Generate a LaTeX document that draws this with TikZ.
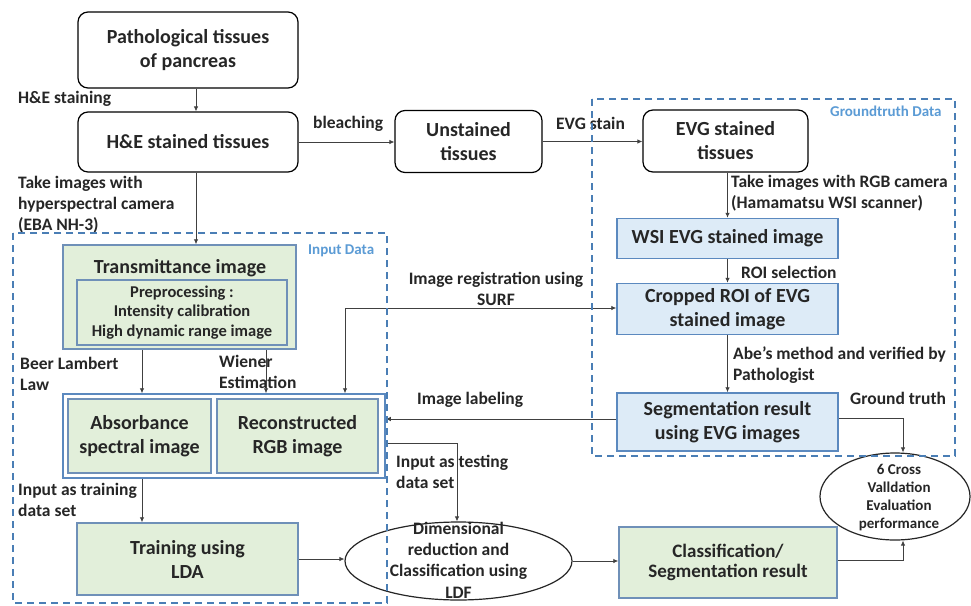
\documentclass[tikz,border=0pt]{standalone}
\usepackage{fontspec}
\setmainfont{Carlito}
\usetikzlibrary{arrows.meta,shapes.geometric,calc}
\definecolor{txt}{HTML}{262626}
\definecolor{conn}{HTML}{404040}
\definecolor{dash}{HTML}{4A7EB5}
\definecolor{lblue}{HTML}{5B9BD5}
\definecolor{gfill}{HTML}{E2EFDA}
\definecolor{gborder}{HTML}{6F90B8}
\definecolor{bfill}{HTML}{DDEBF7}
\definecolor{bborder}{HTML}{5B89BF}
\tikzset{
  bigfont/.style={font=\bfseries\fontsize{20}{24}\selectfont},
  rbox/.style={draw=black, line width=1.2pt, rounded corners=10pt, fill=white, align=center, inner sep=0pt, bigfont, text=txt},
  gbox/.style={draw=gborder, line width=1.5pt, fill=gfill, align=center, inner sep=0pt, bigfont, text=txt},
  bbox/.style={draw=bborder, line width=1.5pt, fill=bfill, align=center, inner sep=0pt, bigfont, text=txt},
  ell/.style={ellipse, draw=black!85, line width=1.2pt, fill=white, inner sep=0pt},
  lbl/.style={font=\bfseries\fontsize{17.5}{21}\selectfont, anchor=west, align=left, inner sep=0pt, text=txt},
  grp/.style={font=\bfseries\fontsize{15}{18}\selectfont, anchor=west, inner sep=0pt, text=lblue},
  arr/.style={draw=conn, line width=0.8pt, -{Latex[length=5pt,width=4.5pt]}},
  arrboth/.style={draw=conn, line width=0.8pt, {Latex[length=5pt,width=4.5pt]}-{Latex[length=5pt,width=4.5pt]}},
  dashbox/.style={draw=dash, line width=1.6pt, dash pattern=on 7pt off 5pt}
}
\begin{document}
\begin{tikzpicture}[x=1pt,y=-1pt]
\useasboundingbox (0,0) rectangle (971,605);
\fill[white] (0,0) rectangle (971,605);

% top row
\node[rbox, minimum width=220pt, minimum height=76pt] (A) at (188,50) {Pathological tissues\\of pancreas};
\node[rbox, minimum width=220pt, minimum height=60pt] (B) at (188,142) {H\&E stained tissues};
\node[rbox, minimum width=147pt, minimum height=62pt] (C) at (468.5,141.5) {Unstained\\tissues};
\node[rbox, minimum width=165pt, minimum height=62pt] (D) at (725.5,141) {EVG stained\\tissues};

% groundtruth column
\node[bbox, minimum width=221pt, minimum height=40pt] (E) at (727.5,238.5) {WSI EVG stained image};
\node[bbox, minimum width=221pt, minimum height=51pt] (F) at (727.5,309) {Cropped ROI of EVG\\stained image};
\node[bbox, minimum width=221pt, minimum height=58pt] (G) at (727.5,422) {Segmentation result\\using EVG images};

% input data column
\node[gbox, minimum width=233pt, minimum height=104pt] (T) at (179.5,297) {};
\node[inner sep=0pt, bigfont, text=txt] (Tt) at (180,268) {Transmittance image};
\node[gbox, minimum width=210pt, minimum height=65pt, font=\bfseries\fontsize{16.5}{19.5}\selectfont] (P) at (182,312.5) {Preprocessing :\\Intensity calibration\\High dynamic range image};

\node[draw=bborder, line width=1.5pt, fill=white, minimum width=322pt, minimum height=84pt, inner sep=0pt] (O) at (224,436) {};
\node[gbox, minimum width=143pt, minimum height=74pt] (Ab) at (139.5,436) {Absorbance\\spectral image};
\node[gbox, minimum width=161pt, minimum height=74pt] (Rc) at (297.5,436) {Reconstructed\\RGB image};

\node[gbox, minimum width=221pt, minimum height=72pt] (Tr) at (187.5,559) {Training using\\LDA};

\node[ell, minimum width=227pt, minimum height=78pt] (Dm) at (458.5,561) {};
\node[inner sep=0pt, align=center, text=txt, font=\bfseries\fontsize{17.5}{21.3}\selectfont] (Dmt) at (458.5,560) {Dimensional\\reduction and\\Classification using\\LDF};

\node[gbox, minimum width=218pt, minimum height=71pt, font=\bfseries\fontsize{19}{20.5}\selectfont] (Cl) at (728,562.5) {Classification/\\Segmentation result};

\node[ell, minimum width=150pt, minimum height=87pt] (Cv) at (895,496.5) {};
\node[inner sep=0pt, align=center, text=txt, font=\bfseries\fontsize{15}{18}\selectfont] (Cvt) at (899,498) {6 Cross\\Valldation\\Evaluation\\performance};

% labels
\node[lbl] (l1) at (18,99) {H\&E staining};
\node[lbl] (l2) at (18,205) {Take images with\\hyperspectral camera\\(EBA NH-3)};
\node[lbl] (l3) at (313,124) {bleaching};
\node[lbl] (l4) at (556,123) {EVG stain};
\node[lbl] (l5) at (731,193.5) {Take images with RGB camera\\(Hamamatsu WSI scanner)};
\node[lbl] (l6) at (741,272) {ROI selection};
\node[lbl, anchor=center, align=center] (l7) at (496,289) {Image registration using\\SURF};
\node[lbl] (l8) at (733,365.5) {Abe’s method and verified by\\Pathologist};
\node[lbl] (l9) at (417,400) {Image labeling};
\node[lbl] (l10) at (850,398) {Ground truth};
\node[lbl] (l11) at (20,373.5) {Beer Lambert\\Law};
\node[lbl] (l12) at (219,371.5) {Wiener\\Estimation};
\node[lbl] (l13) at (18,500) {Input as training\\data set};
\node[lbl] (l14) at (396,471.5) {Input as testing\\data set};
\node[grp] (g1) at (308,251) {Input Data};
\node[grp] (g2) at (830,111) {Groundtruth Data};

% connectors
\coordinate (c1) at ([xshift=8pt]A.south);
\draw[arr] (c1) -- (c1 |- B.north);
\coordinate (c2) at ([xshift=8pt]B.south);
\draw[arr] (c2) -- (c2 |- T.north);
\draw[arr] (B.east) -- (B.east -| C.west);
\draw[arr] (C.east) -- (C.east -| D.west);
\draw[arr] (E.north |- D.south) -- (E.north);
\draw[arr] (E.south) -- (F.north);
\draw[arr] (F.south) -- (G.north);
\coordinate (c3) at (142,0);
\draw[arr] (c3 |- T.south) -- (c3 |- O.north);
\coordinate (c4) at (266,0);
\draw[arr] (c4 |- T.south) -- (c4 |- O.north);
\coordinate (s1) at (345,308);
\draw[arrboth] (s1 |- O.north) -- (s1) -- (s1 -| F.west);
\coordinate (c5) at ([yshift=3pt]G.west);
\draw[arr] (c5) -- (c5 -| O.east);
\coordinate (t1) at (457,443);
\draw[arr] (O.east |- t1) -- (t1) -- (t1 |- Dm.north);
\coordinate (c6) at (142,0);
\draw[arr] (c6 |- O.south) -- (c6 |- Tr.north);
\draw[arr] (Tr.east) -- (Tr.east -| Dm.west);
\draw[arr] (Dm.east) -- (Dm.east -| Cl.west);
\coordinate (v1) at (903,0);
\coordinate (c7) at ([yshift=4pt]G.east);
\draw[arr] (c7) -- (c7 -| v1) -- (v1 |- Cv.north);
\coordinate (c8) at ([yshift=2pt]Cl.east);
\draw[arr] (c8) -- (c8 -| v1) -- (v1 |- Cv.south);

% dashed group boxes
\draw[dashbox] (13,233) rectangle (387,603);
\draw[dashbox] (592,99) rectangle (955,456);
\end{tikzpicture}
\end{document}
